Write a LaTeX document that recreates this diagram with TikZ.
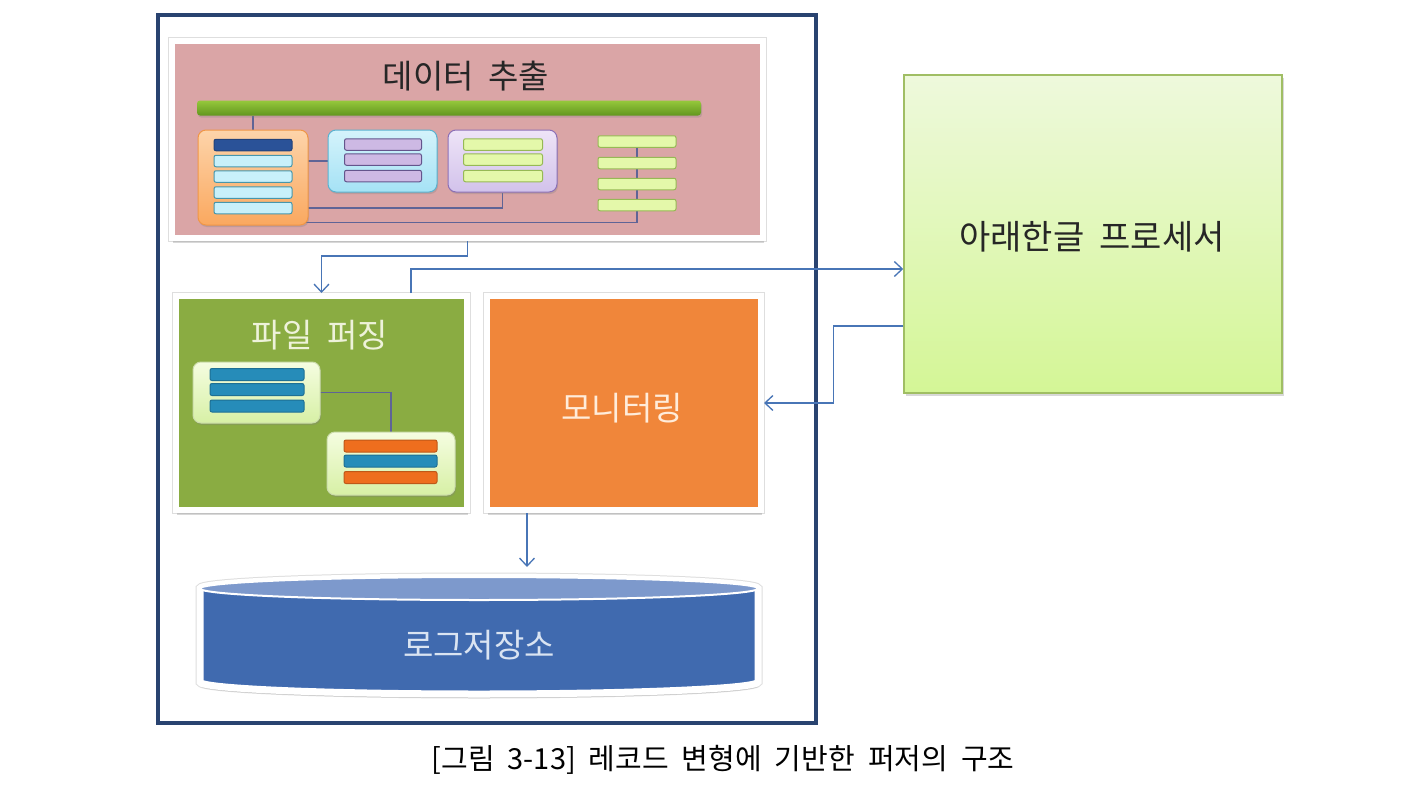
\documentclass[tikz,border=0pt]{standalone}
\usepackage{fontspec}
\newfontfamily\kr{Noto Sans CJK KR}
\newfontfamily\krcap[WordSpace=2]{Noto Sans CJK KR}
\usetikzlibrary{arrows.meta,shadows}
\pgfdeclarelayer{back}
\pgfdeclarelayer{wires}
\pgfsetlayers{back,wires,main}

\definecolor{framenavy}{RGB}{41,67,112}
\definecolor{extractpink}{RGB}{218,165,166}
\definecolor{parsegreen}{RGB}{138,172,66}
\definecolor{monorange}{RGB}{240,134,58}
\definecolor{proctop}{RGB}{238,249,220}
\definecolor{procbot}{RGB}{212,246,150}
\definecolor{procline}{RGB}{160,190,100}
\definecolor{cylbody}{RGB}{64,106,175}
\definecolor{cyltop}{RGB}{125,153,204}
\definecolor{arrowblue}{RGB}{72,117,182}
\definecolor{wirecol}{RGB}{95,100,150}
\definecolor{bustop}{RGB}{150,200,60}
\definecolor{busbot}{RGB}{98,150,30}
\definecolor{tblAtop}{RGB}{253,212,170}
\definecolor{tblAbot}{RGB}{250,168,95}
\definecolor{tblAline}{RGB}{240,150,70}
\definecolor{tblBtop}{RGB}{212,243,251}
\definecolor{tblBbot}{RGB}{165,226,245}
\definecolor{tblBline}{RGB}{90,178,208}
\definecolor{tblCtop}{RGB}{238,228,247}
\definecolor{tblCbot}{RGB}{210,194,235}
\definecolor{tblCline}{RGB}{140,112,182}
\definecolor{darkbar}{RGB}{42,82,152}
\definecolor{cyanbar}{RGB}{200,240,250}
\definecolor{cyanline}{RGB}{70,150,172}
\definecolor{purplebar}{RGB}{205,185,228}
\definecolor{purpleline}{RGB}{100,85,140}
\definecolor{limebar}{RGB}{228,248,170}
\definecolor{limeline}{RGB}{150,185,85}
\definecolor{boxtop}{RGB}{245,253,225}
\definecolor{boxbot}{RGB}{215,240,165}
\definecolor{tealbar}{RGB}{38,140,185}
\definecolor{orangebar}{RGB}{238,110,30}
\definecolor{parsetext}{RGB}{238,242,218}
\definecolor{montext}{RGB}{255,236,218}
\definecolor{storetext}{RGB}{218,228,242}

\begin{document}
\begin{tikzpicture}[x=1pt,y=1pt,yscale=-1,
    card/.style={rectangle, draw=white, line width=6pt, inner sep=0pt, outer sep=3pt,
        preaction={draw=black!13, line width=8pt},
        drop shadow={opacity=0.3, shadow xshift=0.5pt, shadow yshift=-5pt}},
    tbl/.style={rectangle, rounded corners=8pt, line width=1pt, inner sep=0pt,
        drop shadow={opacity=0.3, shadow xshift=1pt, shadow yshift=-2pt}},
    bar/.style={rectangle, rounded corners=2pt, line width=1pt, inner sep=0pt, minimum height=11.5pt},
    wire/.style={draw=wirecol, line width=1.2pt},
    arr/.style={draw=arrowblue, line width=1.3pt, -{Straight Barb[length=8pt,width=15pt]}},
    ttl/.style={font=\kr\fontsize{33}{36}\selectfont, inner sep=0pt}]
\useasboundingbox (0,0) rectangle (1410,792);

\begin{pgfonlayer}{back}
%Background
\fill[white] (0,0) rectangle (1410,792);
%Shape: Frame
\draw[framenavy, line width=4pt] (158,15) rectangle (816,723);
%Shape: Panels
\node[card, fill=extractpink, minimum width=591pt, minimum height=197pt] (extract) at (467.5,139.5) {};
\node[card, fill=parsegreen, minimum width=291pt, minimum height=214pt] (parse) at (321.5,403) {};
\node[card, fill=monorange, minimum width=274pt, minimum height=214pt] (monitor) at (624,403) {};
\node[rectangle, draw=procline, line width=1.5pt, top color=proctop, bottom color=procbot,
    minimum width=378pt, minimum height=318pt, drop shadow={opacity=0.3, shadow xshift=1.5pt, shadow yshift=-2.5pt}] (proc) at (1093,234) {};
%Shape: Cylinder
\draw[white, line width=7pt, fill=cylbody, preaction={draw=black!13, line width=9pt},
    drop shadow={opacity=0.3, shadow xshift=0.5pt, shadow yshift=-4pt}]
    (200,588.5) -- (200,682) arc[start angle=180, end angle=0, x radius=279, y radius=12]
    -- (758,588.5) arc[start angle=0, end angle=-180, x radius=279, y radius=11.5] -- cycle;
\draw[white, line width=2pt, fill=cyltop] (479,588.5) ellipse[x radius=279, y radius=11.5];
\end{pgfonlayer}

% Text Node
\node[ttl, text=black!85] (extractT) at (466,76) {데이터 추출};
\node[ttl, text=parsetext] (parseT) at (320,335) {파일 퍼징};
\node[ttl, text=montext] (monitorT) at (622,408) {모니터링};
\node[ttl, text=storetext] (storeT) at (479,645) {로그저장소};
\node[ttl, font=\kr\fontsize{34}{37}\selectfont, text=black!85] (procT) at (1092,237) {아래한글 프로세서};

%Shape: Bus
\node[rectangle, rounded corners=3pt, top color=bustop, bottom color=busbot, minimum width=504pt, minimum height=15pt,
    drop shadow={opacity=0.3, shadow xshift=1pt, shadow yshift=-2pt}] (bus) at (449,108) {};

%Shape: Tables
\node[tbl, draw=tblAline, top color=tblAtop, bottom color=tblAbot, minimum width=110pt, minimum height=95pt] (tblA) at (253,177.5) {};
\node[tbl, draw=tblBline, top color=tblBtop, bottom color=tblBbot, minimum width=109pt, minimum height=62pt] (tblB) at (382.5,161) {};
\node[tbl, draw=tblCline, top color=tblCtop, bottom color=tblCbot, minimum width=109pt, minimum height=62pt] (tblC) at (502.5,161) {};

\node[bar, draw=darkbar!80!black, fill=darkbar, minimum width=78pt] (a1) at (253,145) {};
\foreach \y [count=\i from 2] in {161,176.5,192.5,208}
    \node[bar, draw=cyanline, fill=cyanbar, minimum width=78pt] (a\i) at (253,\y) {};
\foreach \y [count=\i] in {144.5,159.5,176}
    \node[bar, draw=purpleline, fill=purplebar, minimum width=77pt] (b\i) at (383,\y) {};
\foreach \y [count=\i] in {144.5,159.5,176}
    \node[bar, draw=limeline, fill=limebar, minimum width=79pt] (c\i) at (503,\y) {};
\foreach \y [count=\i] in {141.5,163,184,205}
    \node[bar, draw=limeline, fill=limebar, minimum width=78pt] (g\i) at (637,\y) {};

%Shape: Parse boxes
\node[tbl, draw=limeline!50, top color=boxtop, bottom color=boxbot, minimum width=127pt, minimum height=61pt] (boxA) at (256.5,392.5) {};
\node[tbl, draw=limeline!50, top color=boxtop, bottom color=boxbot, minimum width=128pt, minimum height=63pt] (boxB) at (391,463.5) {};
\foreach \y [count=\i] in {374.5,389.5,406}
    \node[bar, draw=tealbar!80!black, fill=tealbar, minimum width=94pt, minimum height=12pt] (p\i) at (257,\y) {};
\foreach \y/\c [count=\i] in {446/orangebar,461/tealbar,477.5/orangebar}
    \node[bar, draw=\c!80!black, fill=\c, minimum width=93pt, minimum height=12pt] (q\i) at (390.5,\y) {};

%Straight Lines: wires
\begin{pgfonlayer}{wires}
\draw[wire] (bus.south -| tblA.north) -- (tblA.north);
\draw[wire] (tblA.center |- tblB.west) -- (tblB.west);
\draw[wire] ([yshift=30.5pt]tblA.center) -| (tblC.south);
\draw[wire] ([yshift=45pt]tblA.center) -| (g1.center);
\draw[wire] (boxA.center) -| (boxB.north);
\end{pgfonlayer}

%Straight Lines: arrows
\coordinate (storetop) at (527,567);
\draw[arr] (extract.south) -- ++(0,15) -| (parse.north);
\draw[arr] ([xshift=89.5pt]parse.north) |- ([yshift=35pt]proc.west);
\draw[arr] ([yshift=92pt]proc.west) -- ++(-70,0) |- (monitor.east);
\draw[arr] (monitor.south -| storetop) -- (storetop);

% Text Node
\node[font=\krcap\fontsize{29}{31}\selectfont, inner sep=0pt] (cap) at (723,760) {[그림 3-13] 레코드 변형에 기반한 퍼저의 구조};
\end{tikzpicture}
\end{document}
